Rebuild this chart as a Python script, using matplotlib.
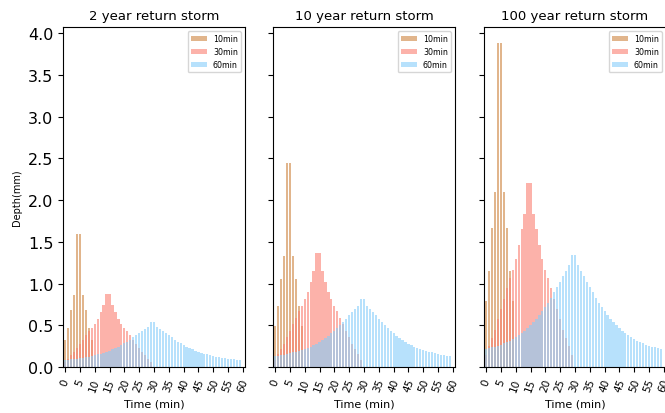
import matplotlib
matplotlib.use('agg')
import matplotlib.pyplot as plt

# Design storm hyetographs (depth per 1-minute step, mm) for three return periods
titles = ["2 year return storm", "10 year return storm", "100 year return storm"]
labels = ["10min", "30min", "60min"]
colors = ["peru", "salmon", "lightskyblue"]

# 2 year
depth_2yr_10 = [0.32, 0.47, 0.68, 0.86, 1.59, 1.59, 0.86, 0.68, 0.47, 0.32]
depth_2yr_30 = [0.06, 0.10, 0.14, 0.18, 0.23, 0.28, 0.33, 0.38, 0.43, 0.47,
                0.52, 0.58, 0.66, 0.74, 0.88, 0.88, 0.74, 0.66, 0.58, 0.52,
                0.47, 0.43, 0.38, 0.33, 0.28, 0.23, 0.18, 0.14, 0.10, 0.06]
depth_2yr_60 = [0.085, 0.089, 0.093, 0.097, 0.102, 0.107, 0.113, 0.119, 0.126, 0.134,
                0.142, 0.151, 0.161, 0.172, 0.184, 0.197, 0.212, 0.228, 0.245, 0.265,
                0.285, 0.305, 0.330, 0.355, 0.380, 0.405, 0.430, 0.455, 0.480, 0.535,
                0.535, 0.480, 0.455, 0.430, 0.405, 0.380, 0.355, 0.330, 0.305, 0.285,
                0.265, 0.245, 0.228, 0.212, 0.197, 0.184, 0.172, 0.161, 0.151, 0.142,
                0.134, 0.126, 0.119, 0.113, 0.107, 0.102, 0.097, 0.093, 0.089, 0.085]

# 10 year
depth_10yr_10 = [0.49, 0.73, 1.05, 1.33, 2.45, 2.45, 1.33, 1.05, 0.73, 0.49]
depth_10yr_30 = [0.09, 0.16, 0.22, 0.28, 0.36, 0.43, 0.51, 0.59, 0.67, 0.73,
                 0.81, 0.90, 1.02, 1.15, 1.37, 1.37, 1.15, 1.02, 0.90, 0.81,
                 0.73, 0.67, 0.59, 0.51, 0.43, 0.36, 0.28, 0.22, 0.16, 0.09]
depth_10yr_60 = [0.130, 0.135, 0.140, 0.150, 0.155, 0.165, 0.175, 0.180, 0.195, 0.205,
                 0.215, 0.230, 0.245, 0.265, 0.280, 0.300, 0.325, 0.350, 0.375, 0.405,
                 0.435, 0.470, 0.505, 0.545, 0.580, 0.620, 0.660, 0.700, 0.735, 0.820,
                 0.820, 0.735, 0.700, 0.660, 0.620, 0.580, 0.545, 0.505, 0.470, 0.435,
                 0.405, 0.375, 0.350, 0.325, 0.300, 0.280, 0.265, 0.245, 0.230, 0.215,
                 0.205, 0.195, 0.180, 0.175, 0.165, 0.155, 0.150, 0.140, 0.135, 0.130]

# 100 year
depth_100yr_10 = [0.79, 1.15, 1.67, 2.10, 3.88, 3.88, 2.10, 1.67, 1.15, 0.79]
depth_100yr_30 = [0.15, 0.25, 0.35, 0.45, 0.57, 0.70, 0.82, 0.95, 1.07, 1.16,
                  1.30, 1.46, 1.66, 1.83, 2.21, 2.21, 1.83, 1.66, 1.46, 1.30,
                  1.16, 1.07, 0.95, 0.82, 0.70, 0.57, 0.45, 0.35, 0.25, 0.15]
depth_100yr_60 = [0.215, 0.225, 0.235, 0.245, 0.255, 0.270, 0.285, 0.300, 0.315, 0.335,
                  0.355, 0.380, 0.405, 0.435, 0.465, 0.500, 0.535, 0.575, 0.620, 0.670,
                  0.720, 0.770, 0.830, 0.900, 0.960, 1.025, 1.090, 1.150, 1.220, 1.340,
                  1.340, 1.220, 1.150, 1.090, 1.025, 0.960, 0.900, 0.830, 0.770, 0.720,
                  0.670, 0.620, 0.575, 0.535, 0.500, 0.465, 0.435, 0.405, 0.380, 0.355,
                  0.335, 0.315, 0.300, 0.285, 0.270, 0.255, 0.245, 0.235, 0.225, 0.215]

storms = [
    [depth_2yr_10, depth_2yr_30, depth_2yr_60],
    [depth_10yr_10, depth_10yr_30, depth_10yr_60],
    [depth_100yr_10, depth_100yr_30, depth_100yr_60],
]

fig = plt.figure(figsize=(6.65, 4.14), dpi=100)
lefts = [0.0947, 0.4105, 0.7278]
axs = []
for i, left in enumerate(lefts):
    if i == 0:
        ax = fig.add_axes([left, 0.111, 0.2737, 0.821])
    else:
        ax = fig.add_axes([left, 0.111, 0.2737, 0.821], sharey=axs[0])
    axs.append(ax)

for ax, title, series in zip(axs, titles, storms):
    for depth, label, color in zip(series, labels, colors):
        ax.bar(range(len(depth)), depth, width=0.75, color=color, alpha=0.6, label=label)
    ax.set_title(title, fontsize=9.5)
    ax.set_xlim(-0.7, 60.7)
    ax.set_xticks(range(0, 61, 5))
    ax.tick_params(axis='x', labelsize=7.5, labelrotation=70)
    ax.set_xlabel("Time (min)", fontsize=8)
    ax.legend(loc='upper right', fontsize=5.7)

axs[0].tick_params(axis='y', labelsize=11.5)
axs[0].set_ylabel("Depth(mm)", fontsize=7)
for ax in axs[1:]:
    ax.tick_params(axis='y', labelleft=False)

fig.savefig("out.png", dpi=100)
